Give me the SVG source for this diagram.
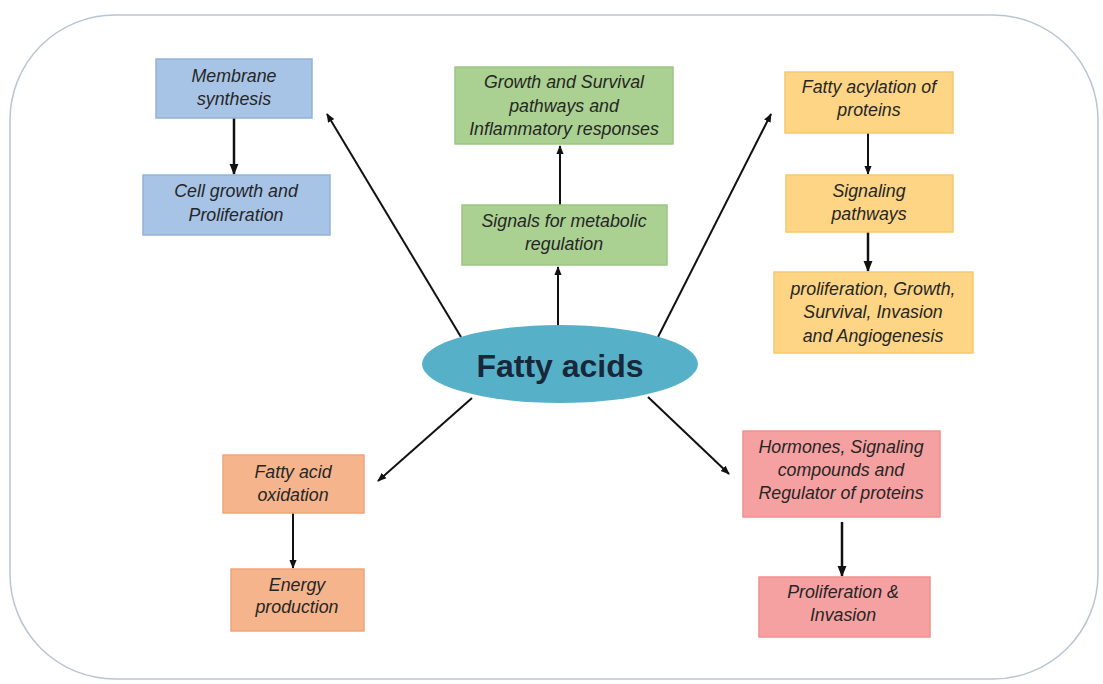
<svg xmlns="http://www.w3.org/2000/svg" width="1103" height="684" viewBox="0 0 1103 684">
<style>
.t{font-family:"Liberation Sans",Arial,sans-serif;font-style:italic;font-size:17.8px;fill:#262626;text-anchor:middle}
.blue{fill:#a7c4e7;stroke:#93b2d8;stroke-width:1.5}
.green{fill:#abd192;stroke:#9dc584;stroke-width:1.5}
.yellow{fill:#fdd585;stroke:#f5c86c;stroke-width:1.5}
.orange{fill:#f5b48c;stroke:#eea578;stroke-width:1.5}
.pink{fill:#f6a1a1;stroke:#f09090;stroke-width:1.5}
.c{stroke:#111;stroke-width:2;fill:none;marker-end:url(#ah)}
.cv{stroke:#111;stroke-width:2.5;fill:none;marker-end:url(#ah)}
</style>
<defs>
<marker id="ah" viewBox="0 0 10 10" refX="9" refY="5" markerWidth="4.5" markerHeight="4.5" orient="auto" markerUnits="strokeWidth">
<path d="M0,1 L10,5 L0,9 z" fill="#111"/>
</marker>
</defs>
<rect width="1103" height="684" fill="#ffffff"/>
<rect id="frame" x="10" y="15" width="1088" height="664" rx="105" ry="105" fill="#ffffff" stroke="#b9c5d2" stroke-width="1.5"/>

<g id="connectors">
<line class="c" x1="461" y1="337" x2="327" y2="114"/>
<line class="cv" x1="234" y1="118" x2="234" y2="174"/>
<line class="c" x1="558" y1="326" x2="558" y2="267"/>
<line class="c" x1="560" y1="205" x2="560" y2="146"/>
<line class="c" x1="658" y1="337" x2="771" y2="114"/>
<line class="c" x1="868" y1="133" x2="868" y2="174"/>
<line class="cv" x1="868" y1="232" x2="868" y2="271"/>
<line class="c" x1="472" y1="398" x2="378" y2="481"/>
<line class="c" x1="293" y1="513" x2="293" y2="568"/>
<line class="c" x1="648" y1="397" x2="729" y2="474"/>
<line class="cv" x1="842" y1="522" x2="842" y2="576"/>
</g>

<g id="fatty-acids">
<ellipse cx="560" cy="364" rx="138" ry="39" fill="#56b1c8"/>
<text x="560" y="377" font-family="'Liberation Sans',Arial,sans-serif" font-weight="bold" font-size="32" fill="#18283a" text-anchor="middle">Fatty acids</text>
</g>

<g id="membrane-synthesis">
<rect class="blue" x="156" y="59" width="156" height="59"/>
<text class="t" x="234" y="82">Membrane</text>
<text class="t" x="234" y="105">synthesis</text>
</g>
<g id="cell-growth">
<rect class="blue" x="143" y="175" width="187" height="60"/>
<text class="t" x="236" y="197">Cell growth and</text>
<text class="t" x="236" y="221">Proliferation</text>
</g>

<g id="growth-survival">
<rect class="green" x="455" y="67" width="218" height="77"/>
<text class="t" x="564" y="88">Growth and Survival</text>
<text class="t" x="564" y="112">pathways and</text>
<text class="t" x="564" y="135">Inflammatory responses</text>
</g>
<g id="signals">
<rect class="green" x="462" y="205" width="205" height="60"/>
<text class="t" x="564" y="227">Signals for metabolic</text>
<text class="t" x="564" y="250">regulation</text>
</g>

<g id="fatty-acylation">
<rect class="yellow" x="785" y="72" width="168" height="61"/>
<text class="t" x="869" y="93">Fatty acylation of</text>
<text class="t" x="869" y="116">proteins</text>
</g>
<g id="signaling-pathways">
<rect class="yellow" x="786" y="175" width="167" height="57"/>
<text class="t" x="869" y="197">Signaling</text>
<text class="t" x="869" y="220">pathways</text>
</g>
<g id="proliferation-growth">
<rect class="yellow" x="774" y="272" width="199" height="81"/>
<text class="t" x="873" y="295">proliferation, Growth,</text>
<text class="t" x="873" y="318">Survival, Invasion</text>
<text class="t" x="873" y="342">and Angiogenesis</text>
</g>

<g id="fatty-acid-oxidation">
<rect class="orange" x="223" y="455" width="141" height="58"/>
<text class="t" x="293" y="478">Fatty acid</text>
<text class="t" x="293" y="501">oxidation</text>
</g>
<g id="energy-production">
<rect class="orange" x="231" y="569" width="133" height="62"/>
<text class="t" x="297" y="591">Energy</text>
<text class="t" x="297" y="613">production</text>
</g>

<g id="hormones">
<rect class="pink" x="743" y="431" width="197" height="86"/>
<text class="t" x="841" y="453">Hormones, Signaling</text>
<text class="t" x="841" y="476">compounds and</text>
<text class="t" x="841" y="499">Regulator of proteins</text>
</g>
<g id="proliferation-invasion">
<rect class="pink" x="759" y="577" width="171" height="60"/>
<text class="t" x="843" y="598">Proliferation &amp;</text>
<text class="t" x="843" y="621">Invasion</text>
</g>
</svg>
